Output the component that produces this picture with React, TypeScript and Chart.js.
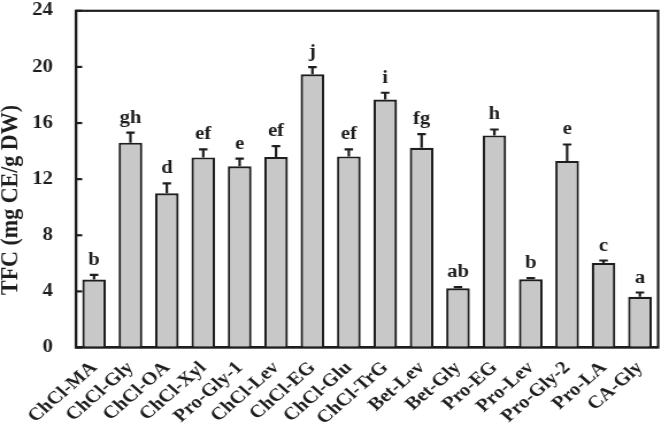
import React, { useEffect, useRef } from "react";
import { Chart, registerables } from "chart.js";

Chart.register(...registerables);

const categories = [
  "ChCl-MA", "ChCl-Gly", "ChCl-OA", "ChCl-Xyl", "Pro-Gly-1", "ChCl-Lev", "ChCl-EG", "ChCl-Glu",
  "ChCl-TrG", "Bet-Lev", "Bet-Gly", "Pro-EG", "Pro-Lev", "Pro-Gly-2", "Pro-LA", "CA-Gly",
];
const tfcValues = [4.85, 14.6, 11.0, 13.55, 12.92, 13.57, 19.47, 13.62, 17.68, 14.23, 4.22, 15.12, 4.87, 13.3, 6.02, 3.62];
const tfcErrors = [0.32, 0.72, 0.7, 0.57, 0.55, 0.78, 0.52, 0.5, 0.48, 0.98, 0.08, 0.42, 0.07, 1.17, 0.18, 0.3];
const letters = ["b", "gh", "d", "ef", "e", "ef", "j", "ef", "i", "fg", "ab", "h", "b", "e", "c", "a"];
const yTicks = [0, 4, 8, 12, 16, 20, 24];

const FONT = "'Liberation Serif', 'Times New Roman', serif";
const INK = "#1e1e1e";
const STRETCH = 1.1495; // the reference figure is stretched horizontally
const W = 582;
const H = 435;

const decorPlugin = {
  id: "decor",
  afterDatasetsDraw(chart: any) {
    const { ctx, chartArea } = chart;
    const yScale = chart.scales.y;
    const meta = chart.getDatasetMeta(0);
    ctx.save();
    meta.data.forEach((bar: any, i: number) => {
      const x = bar.x;
      const yTop = yScale.getPixelForValue(tfcValues[i]);
      const yErr = yScale.getPixelForValue(tfcValues[i] + tfcErrors[i]);
      ctx.strokeStyle = INK;
      ctx.lineWidth = 2.2;
      ctx.beginPath();
      ctx.moveTo(x, yTop);
      ctx.lineTo(x, yErr);
      ctx.moveTo(x - 3.7, yErr);
      ctx.lineTo(x + 3.7, yErr);
      ctx.stroke();
      ctx.fillStyle = INK;
      ctx.font = `bold 18px ${FONT}`;
      ctx.textAlign = "center";
      ctx.textBaseline = "alphabetic";
      ctx.fillText(letters[i], x, yErr - 10);
    });
    ctx.strokeStyle = INK;
    ctx.lineWidth = 2.2;
    yTicks.forEach((v) => {
      const y = yScale.getPixelForValue(v);
      ctx.beginPath();
      ctx.moveTo(chartArea.left, y);
      ctx.lineTo(chartArea.left + 5.5, y);
      ctx.stroke();
    });
    ctx.strokeRect(chartArea.left, chartArea.top, chartArea.right - chartArea.left, chartArea.bottom - chartArea.top);
    ctx.translate(9.5, 200);
    ctx.rotate(-Math.PI / 2);
    ctx.fillStyle = INK;
    ctx.font = `bold 22px ${FONT}`;
    ctx.textAlign = "center";
    ctx.textBaseline = "middle";
    ctx.fillText("TFC (mg CE/g DW)", 0, 0);
    ctx.restore();
  },
};

export default function App() {
  const canvasRef = useRef<HTMLCanvasElement | null>(null);

  useEffect(() => {
    if (!canvasRef.current) return;
    const chart = new Chart(canvasRef.current, {
      type: "bar",
      data: {
        labels: categories,
        datasets: [
          {
            data: tfcValues,
            backgroundColor: "#c8c8c8",
            borderColor: INK,
            borderWidth: 2.2,
            barPercentage: 0.65,
            categoryPercentage: 1,
          },
        ],
      },
      options: {
        responsive: false,
        animation: false,
        layout: { padding: { top: 7.5, right: 1, left: 0, bottom: 0 } },
        plugins: { legend: { display: false }, tooltip: { enabled: false }, title: { display: false } },
        scales: {
          x: {
            grid: { display: false, drawTicks: false },
            border: { display: true, color: INK, width: 2.2 },
            ticks: {
              color: INK,
              font: { family: FONT, size: 18, weight: "bold" },
              minRotation: 45,
              maxRotation: 45,
              padding: 10,
              autoSkip: false,
            },
            afterFit(scale: any) {
              scale.height = 87.5;
            },
          },
          y: {
            min: 0,
            max: 24,
            afterBuildTicks(scale: any) {
              scale.ticks = yTicks.map((v) => ({ value: v }));
            },
            grid: { display: false, drawTicks: true, tickLength: 20, tickColor: "rgba(0,0,0,0)" },
            border: { display: true, color: INK, width: 2.2 },
            ticks: {
              color: INK,
              font: { family: FONT, size: 18, weight: "bold" },
              padding: 0,
            },
            afterFit(scale: any) {
              scale.width = 66;
            },
          },
        },
      },
      plugins: [decorPlugin],
    });
    return () => chart.destroy();
  }, []);

  return (
    <div style={{ position: "fixed", left: 0, top: 0, width: 669, height: 435, background: "#fff", overflow: "hidden" }}>
      <canvas
        ref={canvasRef}
        width={W}
        height={H}
        style={{ display: "block", width: W, height: H, transform: `scaleX(${STRETCH})`, transformOrigin: "0 0" }}
      />
    </div>
  );
}
